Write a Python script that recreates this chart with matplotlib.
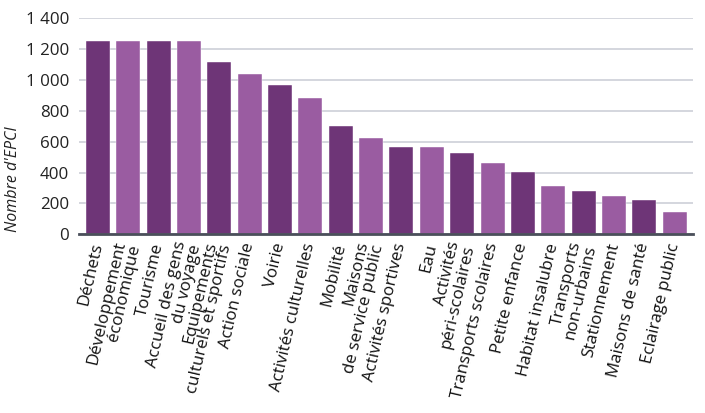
import matplotlib
matplotlib.use("Agg")
import matplotlib.pyplot as plt
from matplotlib.ticker import FuncFormatter

categories = [
    "Déchets", "Développement\néconomique", "Tourisme", "Accueil des gens\ndu voyage",
    "Equipements\nculturels et sportifs", "Action sociale", "Voirie", "Activités culturelles",
    "Mobilité", "Maisons\nde service public", "Activités sportives", "Eau",
    "Activités\npéri-scolaires", "Transports scolaires", "Petite enfance", "Habitat insalubre",
    "Transports\nnon-urbains", "Stationnement", "Maisons de santé", "Eclairage public",
]
values = [1250, 1250, 1250, 1250, 1120, 1040, 970, 886, 700, 624,
          566, 564, 525, 460, 406, 313, 281, 246, 220, 143]
yticks = [0, 200, 400, 600, 800, 1000, 1200, 1400]

dark = "#6E3577"
light = "#9A5CA1"
colors = [dark if i % 2 == 0 else light for i in range(len(values))]

plt.rcParams['font.family'] = ['Open Sans', 'DejaVu Sans']

fig = plt.figure(figsize=(7.05, 4.13), dpi=100)
ax = fig.add_axes([79/705, 1 - 234.3/413, (693-79)/705, 216/413])

x = list(range(len(values)))
ax.bar(x, values, width=0.79, color=colors, edgecolor="#ffffff", linewidth=0.3, zorder=3)

ax.set_ylim(0, 1400)
ax.set_xlim(-0.62, len(values) - 1 + 0.6)
ax.set_yticks(yticks)
ax.yaxis.set_major_formatter(FuncFormatter(lambda v, p: f"{int(v):,}".replace(",", " ")))
ax.grid(axis='y', color="#CDD0D8", linewidth=1.2, zorder=0)
for s in ['top', 'right', 'left']:
    ax.spines[s].set_visible(False)
ax.spines['bottom'].set_color("#4A4F5A")
ax.spines['bottom'].set_linewidth(2)
ax.spines['bottom'].set_zorder(4)
ax.tick_params(axis='y', length=0, labelsize=12.2, pad=7, labelcolor="#222222")
ax.tick_params(axis='x', length=0, pad=6.5)
ax.set_xticks(x)
ax.set_xticklabels(categories, rotation=77, ha='right', va='center',
                   rotation_mode='anchor', fontsize=12.2, color="#111111",
                   multialignment='right', linespacing=0.95)
ax.set_ylabel("Nombre d'EPCI", fontsize=11.5, style='italic', color="#222222")
ax.yaxis.set_label_coords(-0.094, 0.255)

fig.savefig("out.png", dpi=100)
